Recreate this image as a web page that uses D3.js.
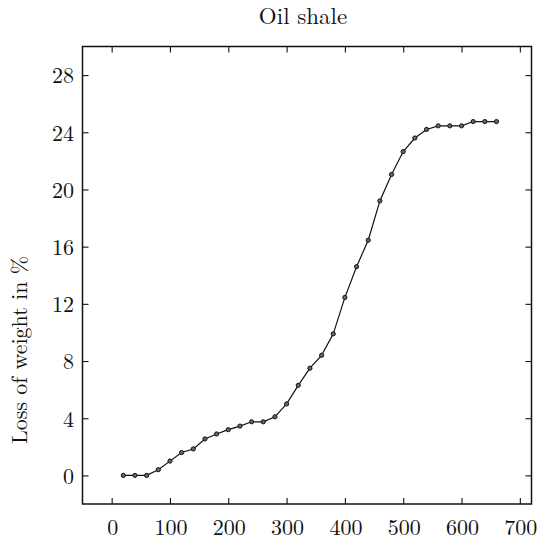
<!DOCTYPE html>
<html>
<head>
<meta charset="utf-8">
<script src="https://cdn.jsdelivr.net/npm/d3@7"></script>
<style>
  html, body { margin: 0; padding: 0; background: #fff; }
</style>
</head>
<body>
<svg id="chart" width="544" height="542"></svg>
<script>
// Heating temperature (°C) and measured loss of weight (%) for oil shale
const temperature = [20, 40, 60, 80, 100, 120, 140, 160, 180, 200, 220, 240, 260, 280, 300,
  320, 340, 360, 380, 400, 420, 440, 460, 480, 500, 520, 540, 560, 580, 600, 620, 640, 660];
const weightLoss = [0, 0, 0, 0.4, 1.0, 1.6, 1.85, 2.55, 2.9, 3.2, 3.45, 3.75, 3.75, 4.1, 5.0,
  6.3, 7.5, 8.4, 9.9, 12.45, 14.6, 16.45, 19.2, 21.05, 22.65, 23.6, 24.2, 24.45, 24.45, 24.45, 24.75, 24.75, 24.75];
const xTicks = [0, 100, 200, 300, 400, 500, 600, 700];
const yTicks = [0, 4, 8, 12, 16, 20, 24, 28];
const title = "Oil shale";
const yLabel = "Loss of weight in %";

const serif = "'Latin Modern Roman', 'Liberation Serif', serif";
const svg = d3.select("#chart");
const box = { left: 82.5, right: 531.5, top: 46.5, bottom: 504 };

const x = d3.scaleLinear().domain([-50, 720]).range([box.left, box.right]);
const y = d3.scaleLinear().domain([-2, 30]).range([box.bottom, box.top]);

const tickLen = 6;
const ink = "#111";

// Axes with inward ticks on all four sides
const bottomAxis = d3.axisTop(x).tickValues(xTicks).tickSize(tickLen).tickFormat("");
const topAxis = d3.axisBottom(x).tickValues(xTicks).tickSize(tickLen).tickFormat("");
const leftAxis = d3.axisRight(y).tickValues(yTicks).tickSize(tickLen).tickFormat("");
const rightAxis = d3.axisLeft(y).tickValues(yTicks).tickSize(tickLen).tickFormat("");

function styleAxis(g) {
  g.select(".domain").remove();
  g.selectAll(".tick line").attr("stroke", ink).attr("stroke-width", 1.1);
}

svg.append("g").attr("transform", `translate(0,${box.bottom})`).call(bottomAxis).call(styleAxis);
svg.append("g").attr("transform", `translate(0,${box.top})`).call(topAxis).call(styleAxis);
svg.append("g").attr("transform", `translate(${box.left},0)`).call(leftAxis).call(styleAxis);
svg.append("g").attr("transform", `translate(${box.right},0)`).call(rightAxis).call(styleAxis);

// Frame
svg.append("rect")
  .attr("x", box.left).attr("y", box.top)
  .attr("width", box.right - box.left).attr("height", box.bottom - box.top)
  .attr("fill", "none").attr("stroke", ink).attr("stroke-width", 1.5);

// Tick labels
svg.append("g").selectAll("text").data(xTicks).join("text")
  .style("font-family", serif)
  .attr("x", d => x(d) + 1).attr("y", 535)
  .attr("text-anchor", "middle").attr("font-size", 22).attr("fill", ink)
  .text(d => d);

svg.append("g").selectAll("text").data(yTicks).join("text")
  .style("font-family", serif)
  .attr("x", 74).attr("y", d => y(d)).attr("dy", "0.38em")
  .attr("text-anchor", "end").attr("font-size", 22).attr("fill", ink)
  .text(d => d);

// Title and axis label
svg.append("text")
  .style("font-family", serif)
  .attr("x", 303).attr("y", 24)
  .attr("text-anchor", "middle").attr("font-size", 23).attr("fill", ink)
  .text(title);

svg.append("text")
  .style("font-family", serif)
  .attr("transform", "translate(27,350) rotate(-90)")
  .attr("text-anchor", "middle").attr("font-size", 22).attr("fill", ink)
  .text(yLabel);

// Data curve and markers
const points = temperature.map((t, i) => [t, weightLoss[i]]);
const line = d3.line().x(d => x(d[0])).y(d => y(d[1]));

svg.append("path")
  .datum(points)
  .attr("d", line)
  .attr("fill", "none").attr("stroke", ink).attr("stroke-width", 1.2);

svg.append("g").selectAll("circle").data(points).join("circle")
  .attr("cx", d => x(d[0])).attr("cy", d => y(d[1]))
  .attr("r", 2.1)
  .attr("fill", "#666").attr("stroke", ink).attr("stroke-width", 1);
</script>
</body>
</html>
